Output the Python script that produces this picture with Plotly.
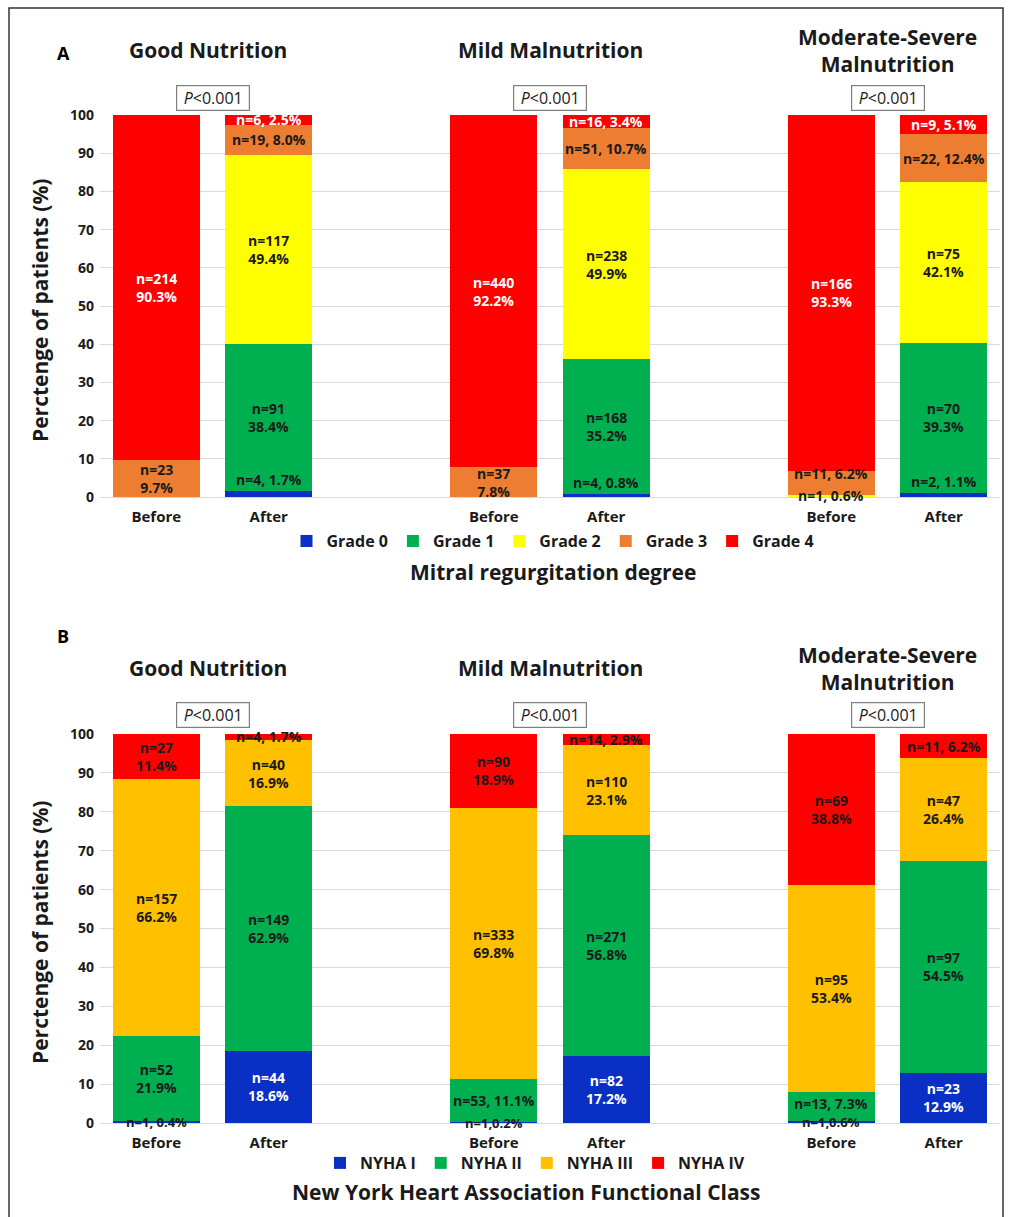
import plotly.graph_objects as go

# ---------------------------------------------------------------- data
group_names = ["Good Nutrition", "Mild Malnutrition", "Moderate-Severe<br>Malnutrition"]
bar_labels = ["Before", "After", "Before", "After", "Before", "After"]
p_values = ["P<0.001", "P<0.001", "P<0.001"]

# Panel A: mitral regurgitation degree (percent and count per bar)
mr_grades = ["Grade 0", "Grade 1", "Grade 2", "Grade 3", "Grade 4"]
mr_pct_g0 = [0, 1.7, 0, 0.8, 0, 1.1]
mr_n_g0 = [0, 4, 0, 4, 0, 2]
mr_pct_g1 = [0, 38.4, 0, 35.2, 0, 39.3]
mr_n_g1 = [0, 91, 0, 168, 0, 70]
mr_pct_g2 = [0, 49.4, 0, 49.9, 0.6, 42.1]
mr_n_g2 = [0, 117, 0, 238, 1, 75]
mr_pct_g3 = [9.7, 8.0, 7.8, 10.7, 6.2, 12.4]
mr_n_g3 = [23, 19, 37, 51, 11, 22]
mr_pct_g4 = [90.3, 2.5, 92.2, 3.4, 93.3, 5.1]
mr_n_g4 = [214, 6, 440, 16, 166, 9]

# Panel B: NYHA functional class
nyha_classes = ["NYHA I", "NYHA II", "NYHA III", "NYHA IV"]
nyha_pct_1 = [0.4, 18.6, 0.2, 17.2, 0.6, 12.9]
nyha_n_1 = [1, 44, 1, 82, 1, 23]
nyha_pct_2 = [21.9, 62.9, 11.1, 56.8, 7.3, 54.5]
nyha_n_2 = [52, 149, 53, 271, 13, 97]
nyha_pct_3 = [66.2, 16.9, 69.8, 23.1, 53.4, 26.4]
nyha_n_3 = [157, 40, 333, 110, 95, 47]
nyha_pct_4 = [11.4, 1.7, 18.9, 2.9, 38.8, 6.2]
nyha_n_4 = [27, 4, 90, 14, 69, 11]

# ---------------------------------------------------------------- style
W, H = 1010, 1217
FONT = "Open Sans"
DARK = "#1a1a1a"
mr_colors = ["#0a2fc4", "#00b050", "#ffff00", "#ed7d31", "#ff0000"]
mr_text = [DARK, DARK, DARK, DARK, "white"]
nyha_colors = ["#0a2fc4", "#00b050", "#ffc000", "#ff0000"]
nyha_text = ["white", DARK, DARK, DARK]

x_pos = [0, 1, 3, 4, 6, 7]      # two bars per group, blank slot between groups
group_x = [0.5, 3.5, 6.5]
title_xshift = [-5, 0, 0]
BAR_W = 0.77


def py(pix):
    """pixel row -> paper y"""
    return 1 - pix / H


def px(pix):
    return pix / W


panels = [
    dict(
        xa="x", ya="y", legend="legend",
        names=mr_grades, colors=mr_colors, text_colors=mr_text,
        pct=[mr_pct_g0, mr_pct_g1, mr_pct_g2, mr_pct_g3, mr_pct_g4],
        n=[mr_n_g0, mr_n_g1, mr_n_g2, mr_n_g3, mr_n_g4],
        two_line_small={(3, 0), (3, 2)},
        tight_sep=set(),
        above={0},
        nudges={(3, 4): 9},
        tiny_size=14,
        top=115, bottom=497, title_y=50, p_y=98, letter="A", letter_y=53,
        ytitle_y=311, legend_y=541, legend_x=553,
        axis_title="Mitral regurgitation degree", axis_title_y=572, axis_title_x=553,
    ),
    dict(
        xa="x2", ya="y2", legend="legend2",
        names=nyha_classes, colors=nyha_colors, text_colors=nyha_text,
        pct=[nyha_pct_1, nyha_pct_2, nyha_pct_3, nyha_pct_4],
        n=[nyha_n_1, nyha_n_2, nyha_n_3, nyha_n_4],
        two_line_small={(3, 0)},
        tight_sep={(0, 2), (0, 4)},
        above=set(),
        nudges={(1, 4): 3},
        tiny_size=13,
        top=734, bottom=1123, title_y=668, p_y=715, letter="B", letter_y=636,
        ytitle_y=933, legend_y=1163, legend_x=535,
        axis_title="New York Heart Association Functional Class",
        axis_title_y=1192, axis_title_x=526,
    ),
]

fig = go.Figure()
annotations = []


def note(**kw):
    kw.setdefault("showarrow", False)
    kw.setdefault("xanchor", "center")
    kw.setdefault("yanchor", "middle")
    annotations.append(kw)


for pi, pn in enumerate(panels):
    cum = [0.0] * len(x_pos)
    for si, name in enumerate(pn["names"]):
        vals = pn["pct"][si]
        counts = pn["n"][si]
        fig.add_trace(go.Bar(
            x=x_pos, y=vals, width=BAR_W, name=name,
            marker=dict(color=pn["colors"][si], line=dict(width=0)),
            xaxis=pn["xa"], yaxis=pn["ya"], legend=pn["legend"],
            hovertemplate=name + ": %{y}%<extra></extra>",
        ))
        for bi, (v, c) in enumerate(zip(vals, counts)):
            base = cum[bi]
            cum[bi] += v
            if c == 0:
                continue
            two_line = v >= 12.5 or (si, bi) in pn["two_line_small"]
            sep = "," if (si, bi) in pn["tight_sep"] else ", "
            txt = f"n={c}<br>{v:.1f}%" if two_line else f"n={c}{sep}{v:.1f}%"
            color = pn["text_colors"][si]
            size = 14
            if si in pn["above"]:
                y, yanchor, color = base + v, "bottom", DARK
            else:
                y, yanchor = base + v / 2, "middle"
            if v < 1:
                color = DARK
                size = pn["tiny_size"]
            note(
                x=x_pos[bi], y=y, xref=pn["xa"], yref=pn["ya"],
                text=txt, yanchor=yanchor,
                yshift=pn["nudges"].get((si, bi), 0),
                font=dict(family=FONT, size=size, color=color, weight="bold"),
            )

    # group titles and P-value boxes
    for gi, g in enumerate(group_names):
        note(
            x=group_x[gi], y=py(pn["title_y"]), xref=pn["xa"], yref="paper",
            xshift=title_xshift[gi],
            text=g, font=dict(family=FONT, size=21, color=DARK, weight="bold"),
        )
        note(
            x=group_x[gi], y=py(pn["p_y"]), xref=pn["xa"], yref="paper",
            text=p_values[gi].replace("P<", "<i>P</i>&lt;"),
            width=66, height=18, align="center",
            bordercolor="#7f7f7f", borderwidth=1.2, borderpad=3,
            bgcolor="white", font=dict(family=FONT, size=16, color=DARK),
        )

    # panel letter, y title, x-legend title
    note(
        x=px(63), y=py(pn["letter_y"]), xref="paper", yref="paper",
        text=pn["letter"], font=dict(family=FONT, size=18, color="black", weight="bold"),
    )
    note(
        x=px(40), y=py(pn["ytitle_y"]), xref="paper", yref="paper",
        text="Perctenge of patients (%)", textangle=-90,
        font=dict(family=FONT, size=21, color=DARK, weight="bold"),
    )
    note(
        x=px(pn["axis_title_x"]), y=py(pn["axis_title_y"]), xref="paper", yref="paper",
        text=pn["axis_title"], font=dict(family=FONT, size=21, color=DARK, weight="bold"),
    )

axis_x = dict(
    domain=[px(100), px(1000)], range=[-0.5, 7.5], automargin=False,
    tickmode="array", tickvals=x_pos, ticktext=bar_labels,
    showgrid=False, zeroline=False, showline=False, ticks="",
    ticklabelstandoff=9,
    tickfont=dict(family=FONT, size=15, color=DARK, weight="bold"),
)


def axis_y(pn):
    return dict(
        domain=[py(pn["bottom"]), py(pn["top"])], range=[0, 100], automargin=False,
        tick0=0, dtick=10, showgrid=True, gridcolor="#d9d9d9", gridwidth=1,
        zeroline=True, zerolinecolor="#d9d9d9", zerolinewidth=1,
        showline=False, ticks="", ticklabelstandoff=5,
        tickfont=dict(family=FONT, size=14, color=DARK, weight="bold"),
    )


def legend_cfg(pn):
    return dict(
        orientation="h", x=px(pn["legend_x"]), y=py(pn["legend_y"]),
        xanchor="center", yanchor="middle", traceorder="normal",
        itemwidth=30, bgcolor="rgba(0,0,0,0)",
        font=dict(family=FONT, size=16, color=DARK, weight="bold"),
    )


fig.update_layout(
    width=W, height=H, margin=dict(l=0, r=0, t=0, b=0),
    paper_bgcolor="white", plot_bgcolor="white",
    barmode="stack", bargap=0,
    xaxis=dict(axis_x, anchor="y"),
    yaxis=dict(axis_y(panels[0]), anchor="x"),
    xaxis2=dict(axis_x, anchor="y2"),
    yaxis2=dict(axis_y(panels[1]), anchor="x2"),
    legend=legend_cfg(panels[0]),
    legend2=legend_cfg(panels[1]),
    annotations=annotations,
    shapes=[dict(
        type="rect", xref="paper", yref="paper",
        x0=px(9), x1=px(1003), y0=py(1225), y1=py(8),
        line=dict(color="#333333", width=1.5), layer="above",
    )],
    showlegend=True,
)

fig.write_html("out.html")
